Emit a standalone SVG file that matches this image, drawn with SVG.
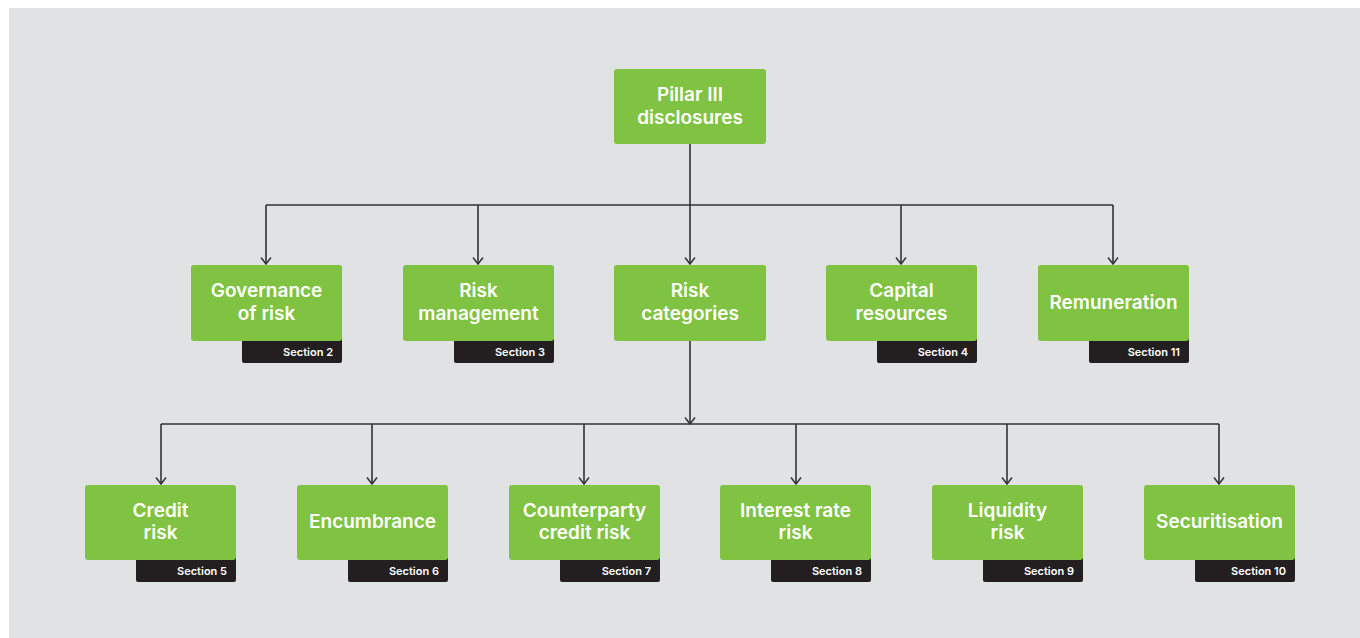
<svg xmlns="http://www.w3.org/2000/svg" width="1360" height="638" viewBox="0 0 1360 638">
<defs>
<style>
.box{fill:#80c241}
.tab{fill:#231f20}
.t{font-family:Inter,"Liberation Sans",sans-serif;font-weight:600;font-size:19px;fill:#fff;text-anchor:middle}
.s{font-family:Inter,"Liberation Sans",sans-serif;font-weight:600;font-size:11px;fill:#fff;text-anchor:end}
.c{fill:none;stroke:#333;stroke-width:1.6}
</style>
<marker id="ad" viewBox="0 0 12 10" refX="6" refY="8.5" markerWidth="12" markerHeight="10" markerUnits="userSpaceOnUse" orient="0">
<path d="M1,2 L6,8.5 L11,2" fill="none" stroke="#333" stroke-width="1.5"/>
</marker>
</defs>
<rect x="0" y="0" width="1360" height="638" fill="#fff"/>
<rect x="9" y="8" width="1351" height="630" fill="#e1e2e3"/>
<g id="connectors">
<path class="c" d="M690,144 V205 M266,205 H1113"/>
<path class="c" d="M266,205 V264" marker-end="url(#ad)"/>
<path class="c" d="M478,205 V264" marker-end="url(#ad)"/>
<path class="c" d="M690,205 V264" marker-end="url(#ad)"/>
<path class="c" d="M901,205 V264" marker-end="url(#ad)"/>
<path class="c" d="M1113,205 V264" marker-end="url(#ad)"/>
<path class="c" d="M690,341 V424" marker-end="url(#ad)"/>
<path class="c" d="M161,424 H1219"/>
<path class="c" d="M161,424 V484" marker-end="url(#ad)"/>
<path class="c" d="M372,424 V484" marker-end="url(#ad)"/>
<path class="c" d="M584,424 V484" marker-end="url(#ad)"/>
<path class="c" d="M796,424 V484" marker-end="url(#ad)"/>
<path class="c" d="M1007,424 V484" marker-end="url(#ad)"/>
<path class="c" d="M1219,424 V484" marker-end="url(#ad)"/>
</g>
<g id="pillar">
<rect class="box" x="614" y="69" width="152" height="75" rx="3"/>
<text class="t" x="690" y="101">Pillar III</text>
<text class="t" x="690" y="123.5">disclosures</text>
</g>
<g id="governance">
<rect class="tab" x="242" y="336" width="100" height="27" rx="2"/>
<rect class="box" x="191" y="265" width="151" height="76" rx="3"/>
<text class="t" x="266.5" y="297">Governance</text>
<text class="t" x="266.5" y="319.5">of risk</text>
<text class="s" x="333" y="356">Section 2</text>
</g>
<g id="riskmgmt">
<rect class="tab" x="454" y="336" width="100" height="27" rx="2"/>
<rect class="box" x="403" y="265" width="151" height="76" rx="3"/>
<text class="t" x="478.5" y="297">Risk</text>
<text class="t" x="478.5" y="319.5">management</text>
<text class="s" x="545" y="356">Section 3</text>
</g>
<g id="riskcat">
<rect class="box" x="614" y="265" width="152" height="76" rx="3"/>
<text class="t" x="690" y="297">Risk</text>
<text class="t" x="690" y="319.5">categories</text>
</g>
<g id="capital">
<rect class="tab" x="877" y="336" width="100" height="27" rx="2"/>
<rect class="box" x="826" y="265" width="151" height="76" rx="3"/>
<text class="t" x="901.5" y="297">Capital</text>
<text class="t" x="901.5" y="319.5">resources</text>
<text class="s" x="968" y="356">Section 4</text>
</g>
<g id="remuneration">
<rect class="tab" x="1089" y="336" width="100" height="27" rx="2"/>
<rect class="box" x="1038" y="265" width="151" height="76" rx="3"/>
<text class="t" x="1113.5" y="308.5">Remuneration</text>
<text class="s" x="1180" y="356">Section 11</text>
</g>
<g id="credit">
<rect class="tab" x="136" y="555" width="100" height="27" rx="2"/>
<rect class="box" x="85" y="485" width="151" height="75" rx="3"/>
<text class="t" x="160.5" y="516.5">Credit</text>
<text class="t" x="160.5" y="539">risk</text>
<text class="s" x="227" y="575">Section 5</text>
</g>
<g id="encumbrance">
<rect class="tab" x="348" y="555" width="100" height="27" rx="2"/>
<rect class="box" x="297" y="485" width="151" height="75" rx="3"/>
<text class="t" x="372.5" y="528">Encumbrance</text>
<text class="s" x="439" y="575">Section 6</text>
</g>
<g id="counterparty">
<rect class="tab" x="560" y="555" width="100" height="27" rx="2"/>
<rect class="box" x="509" y="485" width="151" height="75" rx="3"/>
<text class="t" x="584.5" y="516.5">Counterparty</text>
<text class="t" x="584.5" y="539">credit risk</text>
<text class="s" x="651" y="575">Section 7</text>
</g>
<g id="interest">
<rect class="tab" x="771" y="555" width="100" height="27" rx="2"/>
<rect class="box" x="720" y="485" width="151" height="75" rx="3"/>
<text class="t" x="795.5" y="516.5">Interest rate</text>
<text class="t" x="795.5" y="539">risk</text>
<text class="s" x="862" y="575">Section 8</text>
</g>
<g id="liquidity">
<rect class="tab" x="983" y="555" width="100" height="27" rx="2"/>
<rect class="box" x="932" y="485" width="151" height="75" rx="3"/>
<text class="t" x="1007.5" y="516.5">Liquidity</text>
<text class="t" x="1007.5" y="539">risk</text>
<text class="s" x="1074" y="575">Section 9</text>
</g>
<g id="securitisation">
<rect class="tab" x="1195" y="555" width="100" height="27" rx="2"/>
<rect class="box" x="1144" y="485" width="151" height="75" rx="3"/>
<text class="t" x="1219.5" y="528">Securitisation</text>
<text class="s" x="1286" y="575">Section 10</text>
</g>
</svg>
